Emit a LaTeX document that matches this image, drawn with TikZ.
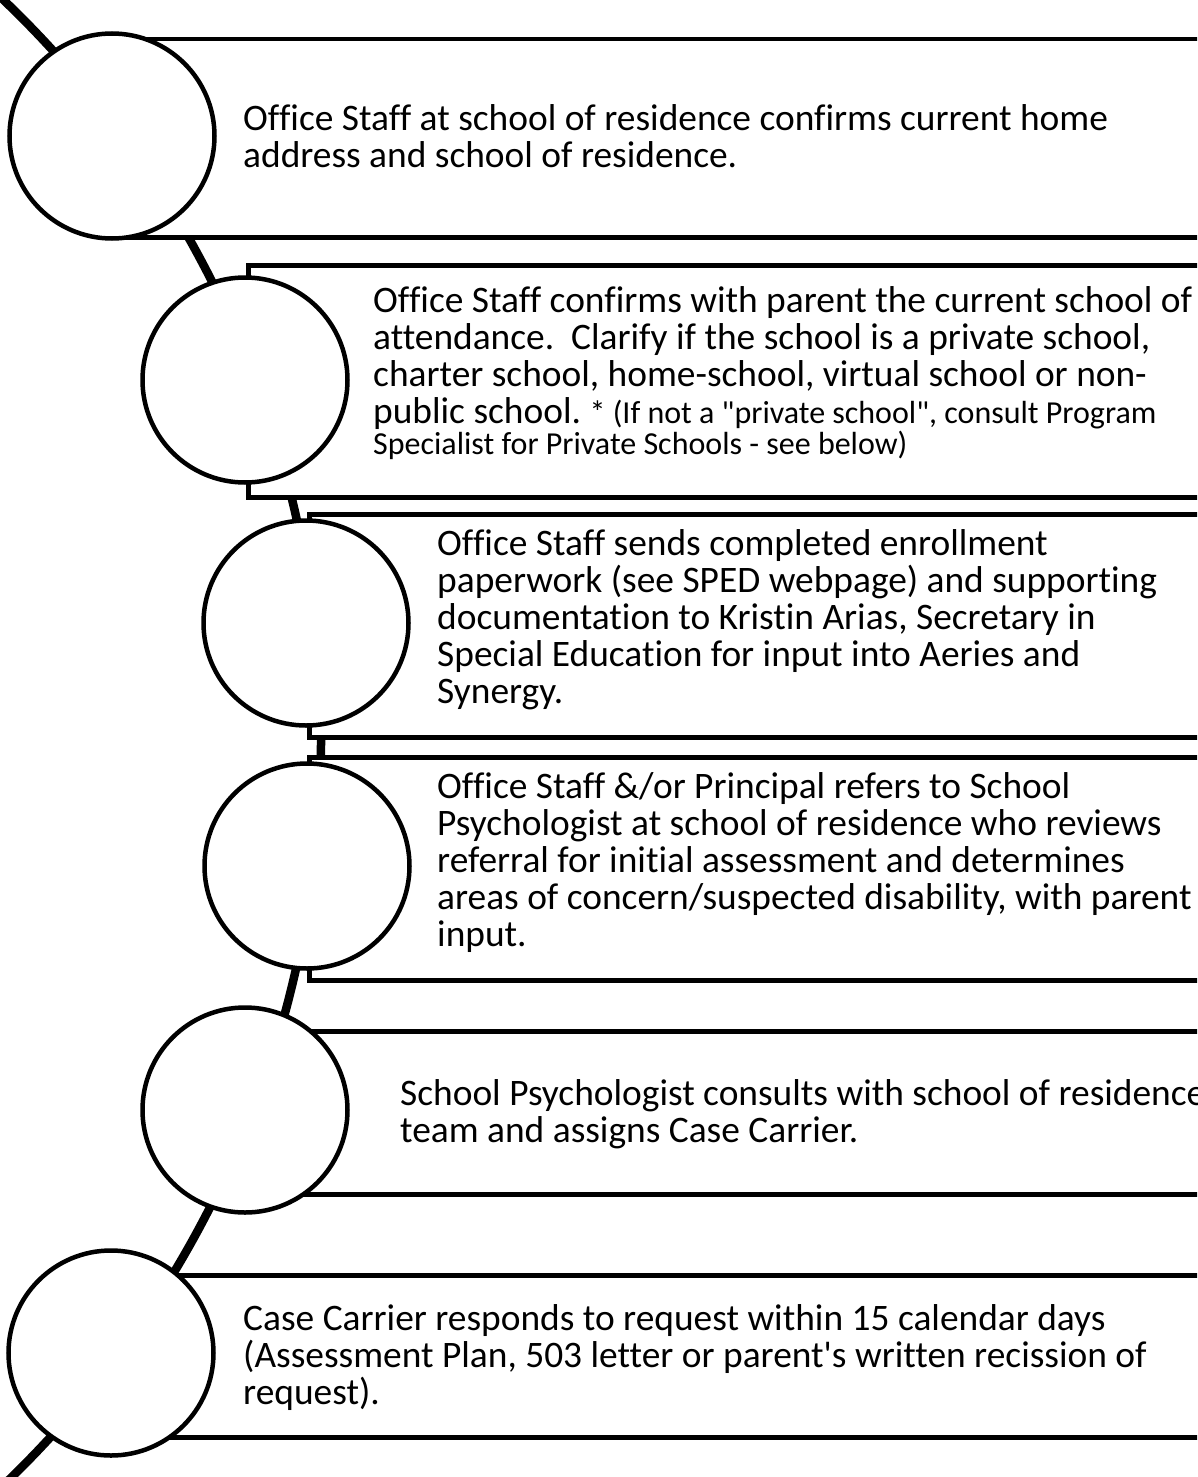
\documentclass[tikz,border=0pt]{standalone}
\usepackage{fontspec}
\setmainfont{Carlito}[Ligatures={NoCommon}]
\begin{document}
\frenchspacing
\begin{tikzpicture}[x=1pt,y=-1pt,
  spine/.style={line width=8.5pt},
  stepbox/.style={draw, line width=4.5pt, fill=white, anchor=north west, inner sep=0pt},
  dot/.style={circle, draw, line width=4.5pt, fill=white, minimum size=205pt, inner sep=0pt},
  txt/.style={anchor=west, inner sep=0pt, align=left, font=\fontsize{37.4}{37}\selectfont}]
\newcommand{\smalltxt}{\fontsize{32}{31}\selectfont}
\useasboundingbox (0,0) rectangle (1197,1477);
\clip (0,0) rectangle (1197,1477);
% spine arc
\coordinate (arcc) at (-706,742.5);
\draw[spine] (arcc) circle [radius=1027pt];
% boxes
\node[stepbox, minimum width=1138pt, minimum height=198pt] (b1) at (112,37) {};
\node[stepbox, minimum width=1004pt, minimum height=232pt] (b2) at (246,263) {};
\node[stepbox, minimum width=943pt, minimum height=223pt] (b3) at (307,512) {};
\node[stepbox, minimum width=943pt, minimum height=223pt] (b4) at (307,755) {};
\node[stepbox, minimum width=1005pt, minimum height=163pt] (b5) at (245,1029) {};
\node[stepbox, minimum width=1139pt, minimum height=162pt] (b6) at (111,1273) {};
% circles
\node[dot] (c1) at (112,136) {};
\node[dot] (c2) at (245,380) {};
\node[dot] (c3) at (306,623) {};
\node[dot] (c4) at (307,866) {};
\node[dot] (c5) at (245,1110) {};
\node[dot] (c6) at (111,1353) {};
% texts
\node[txt] (t1) at (243,136.5) {Office Staff at school of residence confirms current home\\address and school of residence.};
\node[txt] (t2) at (373,373) {Office Staff confirms with parent the current school of\\attendance.\ \ Clarify if the school is a private school,\\charter school, home-school, virtual school or non-\\public school. {\smalltxt * (If not a \textquotedbl private school\textquotedbl, consult Program}\\[-6pt]{\smalltxt Specialist for Private Schools - see below)}};
\node[txt] (t3) at (437,619.5) {Office Staff sends completed enrollment\\paperwork (see SPED webpage) and supporting\\documentation to Kristin Arias, Secretary in\\Special Education for input into Aeries and\\Synergy.};
\node[txt] (t4) at (437,862.5) {Office Staff \&/or Principal refers to School\\Psychologist at school of residence who reviews\\referral for initial assessment and determines\\areas of concern/suspected disability, with parent\\input.};
\node[txt] (t5) at (400,1114) {School Psychologist consults with school of residence\\team and assigns Case Carrier.};
\node[txt] (t6) at (243,1357.5) {Case Carrier responds to request within 15 calendar days\\(Assessment Plan, 503 letter or parent\textquotesingle s written recission of\\request).};
\end{tikzpicture}
\end{document}
